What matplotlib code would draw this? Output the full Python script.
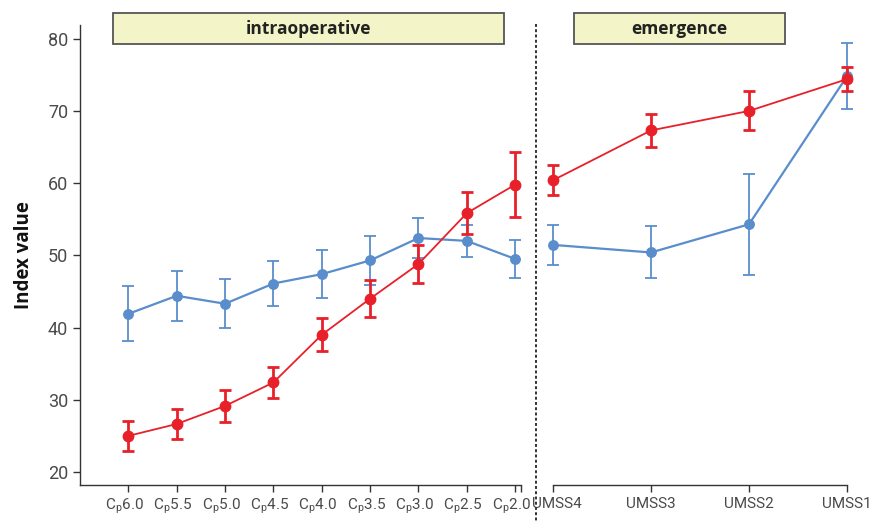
import matplotlib
matplotlib.use("Agg")
import matplotlib.pyplot as plt
import matplotlib.transforms as mtransforms
from matplotlib.lines import Line2D
from matplotlib.patches import Rectangle

TICK_FONT = ['DejaVu Sans Condensed', 'Roboto', 'DejaVu Sans']
plt.rcParams['font.family'] = TICK_FONT
plt.rcParams['font.stretch'] = 'condensed'
plt.rcParams['mathtext.fontset'] = 'custom'
plt.rcParams['mathtext.rm'] = 'Roboto'

# intraoperative phase: target concentration steps
intra_steps = ["6.0", "5.5", "5.0", "4.5", "4.0", "3.5", "3.0", "2.5", "2.0"]
intra_blue = [41.9, 44.4, 43.3, 46.1, 47.4, 49.3, 52.4, 52.0, 49.5]
intra_blue_err = [3.8, 3.5, 3.4, 3.05, 3.3, 3.4, 2.8, 2.2, 2.6]
intra_red = [25.0, 26.65, 29.15, 32.4, 39.0, 44.0, 48.8, 55.85, 59.8]
intra_red_err = [2.1, 2.05, 2.2, 2.2, 2.3, 2.55, 2.6, 2.9, 4.5]

# emergence phase
emerg_steps = ["UMSS4", "UMSS3", "UMSS2", "UMSS1"]
emerg_blue = [51.45, 50.4, 54.3, 74.8]
emerg_blue_err = [2.8, 3.6, 7.0, 4.6]
emerg_red = [60.4, 67.3, 70.0, 74.4]
emerg_red_err = [2.05, 2.25, 2.7, 1.7]

RED = "#e8202a"
BLUE = "#5a8dcb"
GREY = "#4a4a4a"

W, H = 872, 526
fig = plt.figure(figsize=(W / 100, H / 100), dpi=100)


def px(x0, y0, x1, y1):
    # pixel box -> figure fraction [left, bottom, width, height]
    return [x0 / W, 1 - y1 / H, (x1 - x0) / W, (y1 - y0) / H]


ax1 = fig.add_axes(px(80, 25, 521, 485))
ax2 = fig.add_axes(px(553, 25, 847, 485))


def draw_series(ax, y, err, blue):
    x = list(range(len(y)))
    if blue:
        ax.errorbar(x, y, yerr=err, color=BLUE, lw=1.6, marker='o', ms=6.8,
                    ecolor=BLUE, elinewidth=1.3, capsize=4.5, capthick=1.3,
                    clip_on=False, zorder=3)
    else:
        ax.errorbar(x, y, yerr=err, color=RED, lw=1.3, marker='o', ms=7.5,
                    ecolor=RED, elinewidth=2.0, capsize=4.5, capthick=2.0,
                    clip_on=False, zorder=4)


draw_series(ax1, intra_blue, intra_blue_err, True)
draw_series(ax1, intra_red, intra_red_err, False)
draw_series(ax2, emerg_blue, emerg_blue_err, True)
draw_series(ax2, emerg_red, emerg_red_err, False)

for ax in (ax1, ax2):
    ax.set_ylim(18.2, 81.9)
    ax.spines['top'].set_visible(False)
    ax.spines['right'].set_visible(False)
    for s in ax.spines.values():
        s.set_color("#333333")
        s.set_linewidth(1.0)
    ax.tick_params(axis='both', direction='out', length=5, width=1,
                   color="#333333", labelcolor=GREY, labelsize=12)
    ax.set_facecolor('none')

ax1.set_xlim(-1, 8.12)
ax1.set_xticks(range(len(intra_steps)))
ax1.set_xticklabels([r"$\mathregular{C_p}$" + s for s in intra_steps], fontsize=11)
ax1.set_xticks([8.12], minor=True)
ax1.tick_params(axis='x', which='minor', length=5, width=1, color="#333333")
ax1.set_yticks([20, 30, 40, 50, 60, 70, 80])
ax1.tick_params(axis='y', labelsize=13)
ax1.set_ylabel("Index value", family=['Open Sans', 'DejaVu Sans'],
               fontweight='bold', fontstretch='normal', fontsize=13.5,
               color="#111111", labelpad=10)

ax2.set_xlim(0, 3)
ax2.set_xticks(range(len(emerg_steps)))
ax2.set_xticklabels(emerg_steps, fontsize=11)
ax2.spines['left'].set_visible(False)
ax2.set_yticks([])

# nudge tick labels apart around the phase divider
shift_left = mtransforms.ScaledTranslation(-4 / 100, 0, fig.dpi_scale_trans)
shift_right = mtransforms.ScaledTranslation(4 / 100, 0, fig.dpi_scale_trans)
for lbl in ax1.get_xticklabels():
    lbl.set_transform(lbl.get_transform() + shift_left)
first = ax2.get_xticklabels()[0]
first.set_transform(first.get_transform() + shift_right)

# phase headers
for (x0, x1), label in [((113, 504), "intraoperative"), ((574, 785), "emergence")]:
    box = px(x0, 13, x1, 44)
    fig.add_artist(Rectangle((box[0], box[1]), box[2], box[3],
                             transform=fig.transFigure, facecolor="#f3f5c9",
                             edgecolor="#555555", lw=1.3))
    fig.text(box[0] + box[2] / 2, box[1] + box[3] / 2, label,
             family=['Open Sans', 'DejaVu Sans'], fontweight='bold',
             fontstretch='normal', fontsize=12.5, color="#222222",
             ha='center', va='center')

# divider between phases
fig.add_artist(Line2D([536 / W, 536 / W], [1 - 24 / H, 1 - 522 / H],
                      transform=fig.transFigure, color="#333333",
                      lw=1.4, ls=(0, (1.5, 1.2))))

fig.savefig("out.png", dpi=100)
